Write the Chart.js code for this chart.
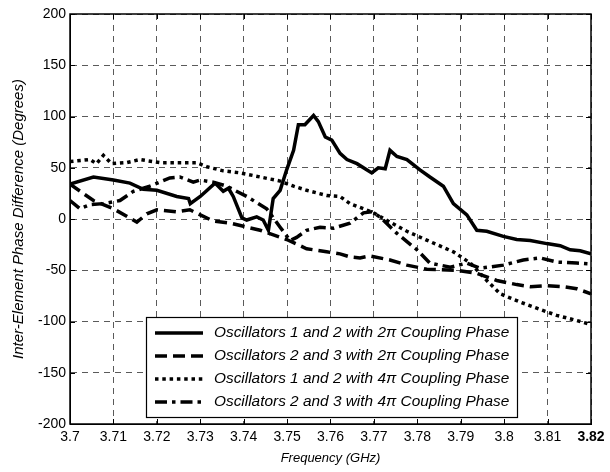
<!DOCTYPE html>
<html>
<head>
<meta charset="utf-8">
<script src="https://cdn.jsdelivr.net/npm/chart.js@4.4.0/dist/chart.umd.min.js"></script>
<style>
html,body{margin:0;padding:0;background:#fff;}
#wrap{width:610px;height:472px;position:relative;}
</style>
</head>
<body>
<div id="wrap"><canvas id="c" width="610" height="472"></canvas></div>
<script>
// ---- data ----
const xTickValues = [3.70,3.71,3.72,3.73,3.74,3.75,3.76,3.77,3.78,3.79,3.80,3.81,3.82];
const xTickLabels = ['3.7','3.71','3.72','3.73','3.74','3.75','3.76','3.77','3.78','3.79','3.8','3.81','3.82'];
const yTickValues = [-200,-150,-100,-50,0,50,100,150,200];
const yTickLabels = ['-200','-150','-100','-50','0','50','100','150','200'];

const seriesLabels = [
  'Oscillators 1 and 2 with 2\u03C0 Coupling Phase',
  'Oscillators 2 and 3 with 2\u03C0 Coupling Phase',
  'Oscillators 1 and 2 with 4\u03C0 Coupling Phase',
  'Oscillators 2 and 3 with 4\u03C0 Coupling Phase'
];

const freq12_2pi = [3.7000,3.7054,3.7100,3.7138,3.7169,3.7200,3.7246,3.7273,3.7277,3.7300,3.7334,3.7353,3.7365,3.7376,3.7396,3.7407,3.7430,3.7445,3.7457,3.7468,3.7484,3.7499,3.7515,3.7526,3.7541,3.7561,3.7572,3.7588,3.7603,3.7622,3.7638,3.7661,3.7695,3.7710,3.7726,3.7737,3.7753,3.7776,3.7806,3.7829,3.7860,3.7883,3.7914,3.7937,3.7960,3.7998,3.8029,3.8060,3.8098,3.8129,3.8152,3.8175,3.8200];
const phase12_2pi = [34,41,38,35,29,28,22,20,15,22,35,27,30,22,1,-1,2,-1,-11,20,28,48,67,92,92,101,95,80,77,64,58,54,45,50,49,67,61,58,48,41,32,15,4,-11,-12,-17,-20,-21,-24,-26,-30,-31,-34];

const freq23_2pi = [3.7000,3.7054,3.7100,3.7154,3.7177,3.7200,3.7246,3.7276,3.7300,3.7330,3.7369,3.7438,3.7499,3.7545,3.7591,3.7622,3.7645,3.7668,3.7691,3.7737,3.7776,3.7822,3.7891,3.7937,3.7983,3.8029,3.8060,3.8098,3.8137,3.8167,3.8200];
const phase23_2pi = [34,18,10,-3,5,9,7,9,4,-2,-4,-11,-20,-29,-32,-34,-37,-38,-36,-40,-45,-49,-50,-53,-60,-64,-66,-65,-66,-68,-73];

const freq12_4pi = [3.7000,3.7046,3.7061,3.7077,3.7096,3.7130,3.7161,3.7207,3.7292,3.7315,3.7353,3.7392,3.7438,3.7484,3.7515,3.7545,3.7591,3.7622,3.7645,3.7676,3.7699,3.7737,3.7776,3.7829,3.7883,3.7922,3.7960,3.7991,3.8037,3.8075,3.8121,3.8167,3.8200];
const phase12_4pi = [56,58,54,62,54,55,58,55,55,51,47,45,41,37,32,28,23,22,15,10,6,-3,-12,-22,-32,-43,-60,-73,-81,-87,-94,-99,-103];

const freq23_4pi = [3.7000,3.7023,3.7046,3.7077,3.7115,3.7146,3.7184,3.7230,3.7253,3.7284,3.7300,3.7330,3.7361,3.7407,3.7453,3.7484,3.7507,3.7522,3.7545,3.7576,3.7607,3.7645,3.7676,3.7695,3.7714,3.7753,3.7799,3.7829,3.7876,3.7914,3.7945,3.7998,3.8044,3.8083,3.8121,3.8167,3.8200];
const phase23_4pi = [18,10,14,15,18,27,32,40,41,36,38,36,32,22,10,-8,-21,-18,-11,-8,-9,-4,6,7,2,-14,-30,-43,-47,-43,-48,-45,-40,-38,-42,-43,-44];

// ---- chart ----
const FONT = "'Liberation Sans', Arial, sans-serif";
const dashes = [[], [12,6], [3.5,3.8], [12,5,3.5,5]];
const pts = (xs, ys) => xs.map((x,i)=>({x:x, y:ys[i]}));
const allX = [freq12_2pi, freq23_2pi, freq12_4pi, freq23_4pi];
const allY = [phase12_2pi, phase23_2pi, phase12_4pi, phase23_4pi];

const datasets = seriesLabels.map((lab,i)=>({
  label: lab,
  data: pts(allX[i], allY[i]),
  borderColor: '#000',
  backgroundColor: '#000',
  borderWidth: 3.5,
  borderDash: dashes[i],
  borderCapStyle: 'butt',
  borderJoinStyle: 'miter',
  pointRadius: 0,
  tension: 0,
  fill: false
}));

const framePlugin = {
  id: 'frame',
  afterDraw(chart){
    const ctx = chart.ctx;
    const a = chart.chartArea;
    const xs = chart.scales.x, ys = chart.scales.y;
    ctx.save();
    // inward tick marks
    ctx.strokeStyle = '#000';
    ctx.lineWidth = 1;
    ctx.setLineDash([]);
    ctx.beginPath();
    xTickValues.forEach(v=>{
      const px = Math.round(xs.getPixelForValue(v))+0.5;
      ctx.moveTo(px, a.bottom); ctx.lineTo(px, a.bottom-5);
      ctx.moveTo(px, a.top); ctx.lineTo(px, a.top+5);
    });
    yTickValues.forEach(v=>{
      const py = Math.round(ys.getPixelForValue(v))+0.5;
      ctx.moveTo(a.left, py); ctx.lineTo(a.left+5, py);
      ctx.moveTo(a.right, py); ctx.lineTo(a.right-5, py);
    });
    ctx.stroke();
    // legend
    const lx = 146, ly = 317, lw = 371, lh = 100;
    ctx.fillStyle = '#fff';
    ctx.fillRect(lx, ly, lw, lh);
    ctx.strokeStyle = '#000';
    ctx.lineWidth = 1.2;
    ctx.strokeRect(lx+0.5, ly+0.5, lw, lh);
    const rows = [333, 356, 379, 402];
    chart.data.datasets.forEach((ds,i)=>{
      ctx.beginPath();
      ctx.lineWidth = ds.borderWidth;
      ctx.lineCap = 'butt';
      ctx.setLineDash(ds.borderDash);
      ctx.strokeStyle = ds.borderColor;
      ctx.moveTo(155, rows[i]); ctx.lineTo(203, rows[i]);
      ctx.stroke();
      ctx.setLineDash([]);
      ctx.fillStyle = '#000';
      ctx.font = 'italic 15.4px ' + FONT;
      ctx.textBaseline = 'middle';
      ctx.textAlign = 'left';
      ctx.fillText(ds.label, 214, rows[i]);
    });
    // frame
    ctx.setLineDash([]);
    ctx.lineWidth = 1.5;
    ctx.strokeStyle = '#000';
    ctx.strokeRect(a.left, a.top, a.right-a.left, a.bottom-a.top);
    ctx.restore();
  }
};

new Chart(document.getElementById('c'), {
  type: 'line',
  data: { datasets },
  options: {
    responsive: false,
    animation: false,
    devicePixelRatio: 1,
    layout: { padding: { top: 14, right: 19, left: 0, bottom: 0 } },
    plugins: { legend: { display: false }, tooltip: { enabled: false } },
    scales: {
      x: {
        type: 'linear',
        min: 3.70, max: 3.82,
        afterBuildTicks: s => { s.ticks = xTickValues.map(v=>({value:v})); },
        afterFit: s => { s.height = 48; },
        ticks: {
          autoSkip: false,
          maxRotation: 0,
          padding: 5,
          color: '#000',
          font: ctx => ({ family: FONT, size: 14, weight: (ctx.index === xTickValues.length-1) ? 'bold' : 'normal' }),
          callback: (v, i) => xTickLabels[i]
        },
        grid: { color: '#5a5a5a', lineWidth: 1, drawTicks: false },
        border: { display: true, color: '#000', dash: [6,5] },
        title: { display: true, text: 'Frequency (GHz)', color: '#000', font: { family: FONT, size: 13, style: 'italic' }, padding: { top: 0, bottom: 6 } }
      },
      y: {
        type: 'linear',
        min: -200, max: 200,
        afterBuildTicks: s => { s.ticks = yTickValues.map(v=>({value:v})); },
        afterFit: s => { s.width = 70; },
        ticks: {
          padding: 4,
          color: '#000',
          font: { family: FONT, size: 14 },
          callback: (v, i) => yTickLabels[i]
        },
        grid: { color: '#5a5a5a', lineWidth: 1, drawTicks: false },
        border: { display: true, color: '#000', dash: [6,5] },
        title: { display: true, text: 'Inter-Element Phase Difference (Degrees)', color: '#000', font: { family: FONT, size: 15, style: 'italic' }, padding: { top: 10, bottom: 0 } }
      }
    }
  },
  plugins: [framePlugin]
});
</script>
</body>
</html>
